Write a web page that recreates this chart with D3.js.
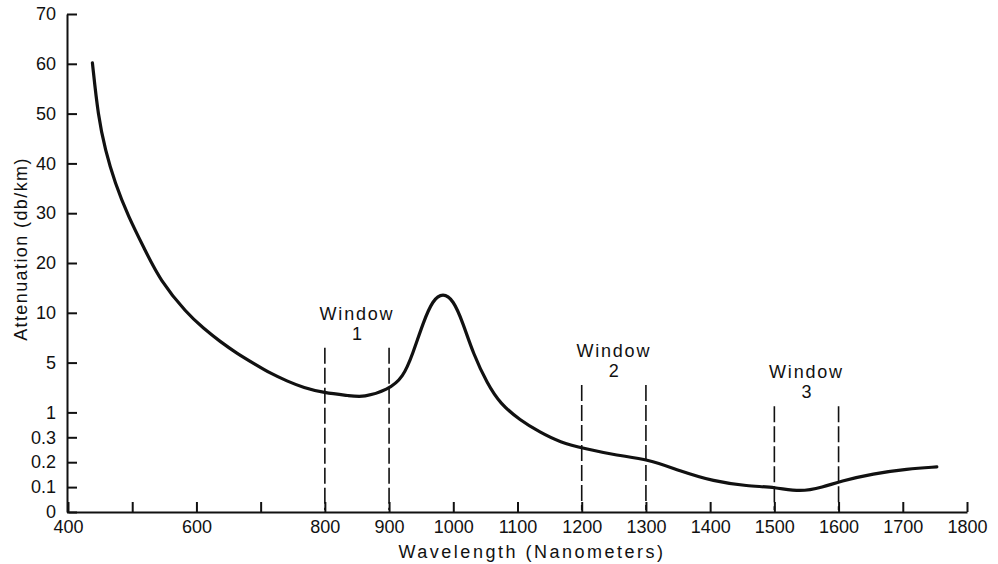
<!DOCTYPE html>
<html>
<head>
<meta charset="utf-8">
<script src="https://cdn.jsdelivr.net/npm/d3@7"></script>
<style>
  body { margin: 0; background: #fff; }
  svg text { font-family: "Liberation Sans", Arial, sans-serif; fill: #111; }
</style>
</head>
<body>
<svg id="chart" width="998" height="564"></svg>
<script>
// attenuation curve
const wavelength = [438, 447, 458, 473, 494, 520, 543, 585, 611, 637, 663, 689, 715, 741, 767, 798, 839, 860, 898,
  922, 937, 953, 968, 984, 1000, 1015, 1031, 1053, 1073, 1104, 1135, 1166, 1205, 1255, 1303,
  1353, 1405, 1458, 1501, 1540, 1576, 1602, 1654, 1707, 1753];
const attenuation = [60.2, 49.4, 42.7, 36.1, 29.3, 22.6, 16.6, 9.95, 8.44, 7.1, 5.93, 4.94, 4.14, 3.52, 2.98, 2.58, 2.34, 2.2, 2.8,
  3.8, 5.9, 9.0, 12.6, 14.0, 12.6, 9.0, 5.9, 3.3, 1.7, 0.78, 0.44, 0.28, 0.254, 0.227, 0.212,
  0.165, 0.123, 0.104, 0.1, 0.08, 0.1, 0.123, 0.154, 0.173, 0.181];

const yTicks = [0, 0.1, 0.2, 0.3, 1, 5, 10, 20, 30, 40, 50, 60, 70];
const xTicks = [400, 500, 600, 700, 800, 900, 1000, 1100, 1200, 1300, 1400, 1500, 1600, 1700, 1800];
const xLabels = [400, 600, 800, 900, 1000, 1100, 1200, 1300, 1400, 1500, 1600, 1700, 1800];

const windowNames = ["1", "2", "3"];
const windowLo = [800, 1200, 1500];
const windowHi = [900, 1300, 1600];
const windowTop = [6.5, 3.2, 1.5];

const svg = d3.select("#chart");

const x = d3.scaleLinear().domain([400, 1800]).range([68, 967]);

// uneven y axis: the steps below 1 take half the room of the others
const yTop = 14, yBottom = 512;
let cum = [0];
for (let i = 1; i < yTicks.length; i++) cum.push(cum[i - 1] + (yTicks[i] <= 1 ? 0.5 : 1));
const unit = (yBottom - yTop) / cum[cum.length - 1];
const y = d3.scaleLinear().domain(yTicks).range(cum.map(c => yBottom - c * unit));

// axes
svg.append("g")
  .attr("class", "axis")
  .attr("transform", `translate(0,${y(0)})`)
  .call(d3.axisBottom(x)
    .tickValues(xTicks)
    .tickSizeInner(-10)
    .tickSizeOuter(0)
    .tickPadding(8)
    .tickFormat(d => xLabels.includes(d) ? d : ""));

svg.append("g")
  .attr("class", "axis")
  .attr("transform", "translate(67,0)")
  .call(d3.axisLeft(y)
    .tickValues(yTicks)
    .tickSizeInner(-10)
    .tickSizeOuter(0)
    .tickPadding(11)
    .tickFormat(d => String(d)));

svg.selectAll(".axis").attr("font-family", null).attr("font-size", null);
svg.selectAll(".axis path, .axis line").attr("stroke", "#111").attr("stroke-width", 2);
svg.selectAll(".axis text").style("font-size", "18px");

// window markers
const win = windowNames.map((n, i) => ({name: n, lo: windowLo[i], hi: windowHi[i], top: windowTop[i]}));

win.forEach(w => {
  svg.selectAll(null)
    .data([w.lo, w.hi])
    .enter()
    .append("line")
    .attr("x1", d => x(d))
    .attr("x2", d => x(d))
    .attr("y1", y(w.top))
    .attr("y2", y(0) - 2)
    .attr("stroke", "#111")
    .attr("stroke-width", 1.6)
    .attr("stroke-dasharray", "16,4");

  const cx = (x(w.lo) + x(w.hi)) / 2;
  svg.append("text")
    .attr("x", cx)
    .attr("y", y(w.top) - 28)
    .attr("text-anchor", "middle")
    .style("font-size", "18px")
    .style("letter-spacing", "1.8px")
    .text("Window");
  svg.append("text")
    .attr("x", cx)
    .attr("y", y(w.top) - 8)
    .attr("text-anchor", "middle")
    .style("font-size", "18px")
    .text(w.name);
});

// attenuation curve (basis spline smooths out reading noise)
const pts = wavelength.map((d, i) => [d, attenuation[i]]);
svg.append("path")
  .datum(pts)
  .attr("fill", "none")
  .attr("stroke", "#111")
  .attr("stroke-width", 3.2)
  .attr("stroke-linecap", "round")
  .attr("d", d3.line()
    .x(d => x(d[0]))
    .y(d => y(d[1]))
    .curve(d3.curveBasis));

// axis titles
svg.append("text")
  .attr("x", 532)
  .attr("y", 558)
  .attr("text-anchor", "middle")
  .style("font-size", "18px")
  .style("letter-spacing", "2.5px")
  .text("Wavelength (Nanometers)");

svg.append("text")
  .attr("transform", "translate(27,249) rotate(-90)")
  .attr("text-anchor", "middle")
  .style("font-size", "18px")
  .style("letter-spacing", "1.4px")
  .text("Attenuation (db/km)");
</script>
</body>
</html>
